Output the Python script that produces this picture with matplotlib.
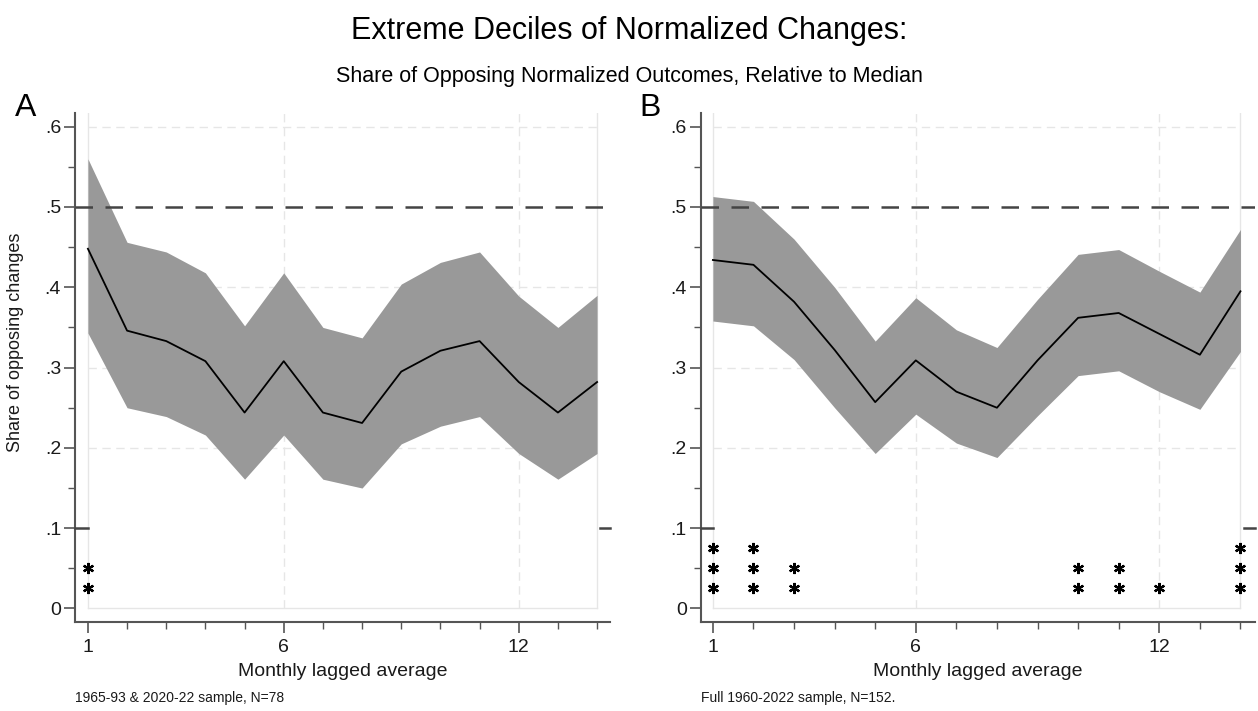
import numpy as np
from matplotlib import pyplot as plt

plt.rcParams['font.family'] = ['Liberation Sans', 'DejaVu Sans']

lags = np.arange(1, 15)

# panel A: 1965-93 & 2020-22 sample
meanA = [0.448, 0.346, 0.333, 0.308, 0.244, 0.308, 0.244, 0.231, 0.295, 0.321, 0.333, 0.282, 0.244, 0.282]
upperA = [0.560, 0.456, 0.444, 0.418, 0.352, 0.418, 0.350, 0.337, 0.404, 0.431, 0.444, 0.389, 0.350, 0.390]
lowerA = [0.343, 0.250, 0.239, 0.216, 0.161, 0.216, 0.161, 0.150, 0.205, 0.227, 0.239, 0.193, 0.161, 0.193]

# panel B: full 1960-2022 sample
meanB = [0.434, 0.428, 0.382, 0.322, 0.257, 0.309, 0.270, 0.250, 0.309, 0.362, 0.368, 0.342, 0.316, 0.395]
upperB = [0.513, 0.507, 0.460, 0.400, 0.333, 0.387, 0.347, 0.325, 0.385, 0.441, 0.447, 0.420, 0.394, 0.472]
lowerB = [0.358, 0.352, 0.310, 0.250, 0.193, 0.242, 0.206, 0.188, 0.240, 0.290, 0.296, 0.270, 0.248, 0.320]

# number of significance stars per lag
starsA = [2, 0, 0, 0, 0, 0, 0, 0, 0, 0, 0, 0, 0, 0]
starsB = [3, 3, 2, 0, 0, 0, 0, 0, 0, 2, 2, 1, 0, 3]

notes = ["1965-93 & 2020-22 sample, N=78", "Full 1960-2022 sample, N=152."]
letters = ["A", "B"]

fig = plt.figure(figsize=(12.58, 7.11), dpi=100)
axA = fig.add_axes([0.0596, 0.125, 0.425, 0.716])
axB = fig.add_axes([0.557, 0.125, 0.441, 0.716])

panels = [(axA, meanA, upperA, lowerA, starsA, (0.67, 14.32)),
          (axB, meanB, upperB, lowerB, starsB, (0.70, 14.37))]

for i, (ax, mean, upper, lower, stars, xl) in enumerate(panels):
    ax.set_xlim(*xl)
    ax.set_ylim(-0.017, 0.617)

    # light grid and plot region border
    for y in [0.2, 0.3, 0.4, 0.6]:
        ax.plot([1, 14], [y, y], color="#e6e6e6", lw=1, ls=(0, (6, 4)), zorder=0)
    for x in [6, 12]:
        ax.plot([x, x], [0, 0.617], color="#e6e6e6", lw=1, ls=(0, (6, 4)), zorder=0)
    ax.plot([1, 1], [0, 0.617], color="#e6e6e6", lw=1, zorder=0)
    ax.plot([14, 14], [0, 0.617], color="#e6e6e6", lw=1, zorder=0)
    ax.plot([1, 14], [0, 0], color="#e6e6e6", lw=1, zorder=0)

    ax.fill_between(lags, lower, upper, color="#999999", lw=0, zorder=2)
    ax.plot(lags, mean, color="black", lw=1.3, zorder=3)

    ax.axhline(0.5, color="#444444", lw=1.8, ls=(0, (7, 5)), zorder=4)
    ax.plot([xl[0], 1.0], [0.1, 0.1], color="#444444", lw=1.8, zorder=4, clip_on=False)
    ax.plot([14.08, xl[1]], [0.1, 0.1], color="#444444", lw=1.8, zorder=4, clip_on=False)

    for x, n in zip(lags, stars):
        for k in range(n):
            ax.plot(x, 0.025 * (k + 1), marker=(6, 2, 0), ms=8, mew=1.6, color="black",
                    ls="none", zorder=5, clip_on=False)

    for side in ["top", "right"]:
        ax.spines[side].set_visible(False)
    for side in ["left", "bottom"]:
        ax.spines[side].set_color("#555555")
        ax.spines[side].set_linewidth(1.5)

    ax.set_yticks([0, 0.1, 0.2, 0.3, 0.4, 0.5, 0.6])
    ax.set_yticklabels(["0", ".1", ".2", ".3", ".4", ".5", ".6"])
    ax.set_yticks(np.arange(0.05, 0.6, 0.1), minor=True)
    ax.set_xticks([1, 6, 12])
    ax.set_xticks(lags, minor=True)
    ax.tick_params(axis="both", which="major", length=8, width=1.2, color="#555555",
                   labelsize=14, labelcolor="#1a1a1a", pad=2)
    ax.tick_params(axis="both", which="minor", length=5, width=1.0, color="#555555")
    ax.tick_params(axis="x", which="major", pad=4)

    ax.set_xlabel("Monthly lagged average", fontsize=14, color="#1a1a1a", labelpad=5)
    ax.text(0.0, -0.149, notes[i], transform=ax.transAxes, fontsize=10, color="#1a1a1a",
            ha="left", va="center")
    ax.text(-0.112 if i == 0 else -0.11, 1.01, letters[i], transform=ax.transAxes,
            fontsize=23, ha="left", va="center")

axA.set_ylabel("Share of opposing changes", fontsize=13, color="#1a1a1a")
axA.yaxis.set_label_coords(-0.095, 0.55)

fig.text(0.5, 0.957, "Extreme Deciles of Normalized Changes:", ha="center", va="center", fontsize=22)
fig.text(0.5, 0.893, "Share of Opposing Normalized Outcomes, Relative to Median", ha="center",
         va="center", fontsize=15.5)

fig.savefig("out.png", dpi=100)
